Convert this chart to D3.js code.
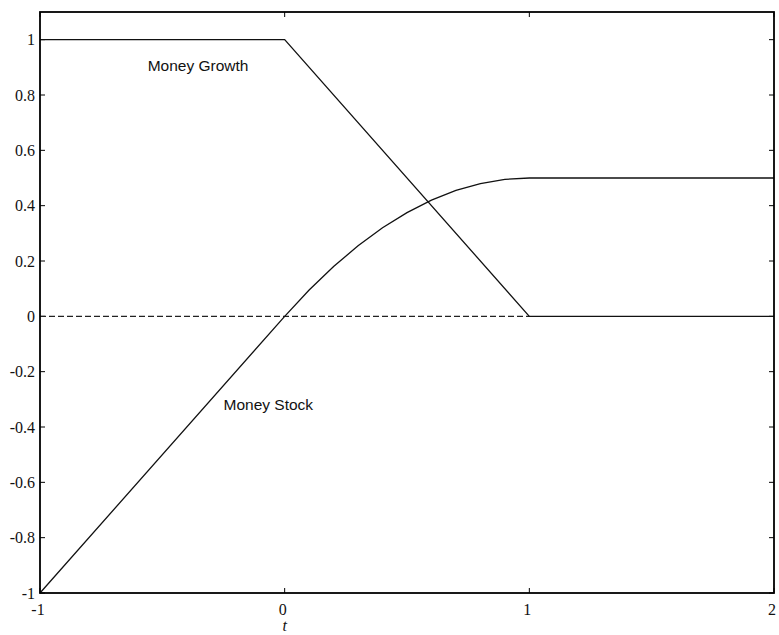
<!DOCTYPE html>
<html>
<head>
<meta charset="utf-8">
<script src="https://cdn.jsdelivr.net/npm/d3@7"></script>
<style>
  html, body { margin: 0; padding: 0; background: #fff; }
  svg { display: block; }
  .serif { font-family: "Liberation Serif", "Times New Roman", Times, "DejaVu Serif", serif; }
  .sans { font-family: "Liberation Sans", Arial, Helvetica, sans-serif; }
</style>
</head>
<body>
<svg id="chart" width="779" height="635"></svg>
<script>
// Time axis and the two paths
const growthT = [-1, 0, 1, 2];
const growthV = [1, 1, 0, 0];

const stockT = [-1, 0, 0.1, 0.2, 0.3, 0.4, 0.5, 0.6, 0.7, 0.8, 0.9, 1, 2];
const stockV = [-1, 0, 0.095, 0.18, 0.255, 0.32, 0.375, 0.42, 0.455, 0.48, 0.495, 0.5, 0.5];

// Zero reference (dashed) from t = -1 to t = 1
const zeroT = [-1, 1];
const zeroV = [0, 0];

const xTicks = [-1, 0, 1, 2];
const yTicks = [-1, -0.8, -0.6, -0.4, -0.2, 0, 0.2, 0.4, 0.6, 0.8, 1];

const labels = [
  { text: "Money Growth", t: -0.56, v: 0.885 },
  { text: "Money Stock", t: -0.25, v: -0.34 }
];

const svg = d3.select("#chart");
const L = 40, R = 774, T = 12, B = 593;

const x = d3.scaleLinear().domain([-1, 2]).range([L, R]);
const y = d3.scaleLinear().domain([-1, 1.1]).range([B, T]);

const line = d3.line().x(d => x(d[0])).y(d => y(d[1]));

// tick marks on all four sides (pointing inward)
const tickLen = 5;
const axisG = svg.append("g").attr("stroke", "#000").attr("stroke-width", 1);
yTicks.forEach(v => {
  axisG.append("line").attr("x1", L).attr("x2", L + tickLen).attr("y1", y(v)).attr("y2", y(v));
  axisG.append("line").attr("x1", R).attr("x2", R - tickLen).attr("y1", y(v)).attr("y2", y(v));
});
xTicks.forEach(t => {
  axisG.append("line").attr("x1", x(t)).attr("x2", x(t)).attr("y1", B).attr("y2", B - tickLen);
  axisG.append("line").attr("x1", x(t)).attr("x2", x(t)).attr("y1", T).attr("y2", T + tickLen);
});

// tick labels
const fmt = v => (v === 0 ? "0" : String(v));
svg.append("g").selectAll("text").data(yTicks).join("text")
  .attr("class", "serif")
  .attr("x", L - 5).attr("y", d => y(d)).attr("dy", "0.35em")
  .attr("text-anchor", "end")
  .attr("font-size", 16).attr("fill", "#111")
  .text(fmt);

svg.append("g").selectAll("text").data(xTicks).join("text")
  .attr("class", "serif")
  .attr("x", d => x(d) - 2).attr("y", 615)
  .attr("text-anchor", "middle")
  .attr("font-size", 16).attr("fill", "#111")
  .text(fmt);

svg.append("text")
  .attr("class", "serif")
  .attr("x", x(0)).attr("y", 631)
  .attr("text-anchor", "middle")
  .attr("font-style", "italic")
  .attr("font-size", 16).attr("fill", "#111")
  .text("t");

// dashed zero line
svg.append("path")
  .datum(d3.zip(zeroT, zeroV))
  .attr("d", line)
  .attr("fill", "none").attr("stroke", "#222")
  .attr("stroke-width", 1.3)
  .attr("stroke-dasharray", "6,3");

// money growth
svg.append("path")
  .datum(d3.zip(growthT, growthV))
  .attr("d", line)
  .attr("fill", "none").attr("stroke", "#111")
  .attr("stroke-width", 1.3);

// money stock
svg.append("path")
  .datum(d3.zip(stockT, stockV))
  .attr("d", line)
  .attr("fill", "none").attr("stroke", "#111")
  .attr("stroke-width", 1.3);

// frame
svg.append("rect")
  .attr("x", L).attr("y", T).attr("width", R - L).attr("height", B - T)
  .attr("fill", "none").attr("stroke", "#000").attr("stroke-width", 1.8);

// curve labels
svg.append("g").selectAll("text").data(labels).join("text")
  .attr("class", "sans")
  .attr("x", d => x(d.t)).attr("y", d => y(d.v))
  .attr("font-size", 15.5).attr("fill", "#111")
  .text(d => d.text);
</script>
</body>
</html>
